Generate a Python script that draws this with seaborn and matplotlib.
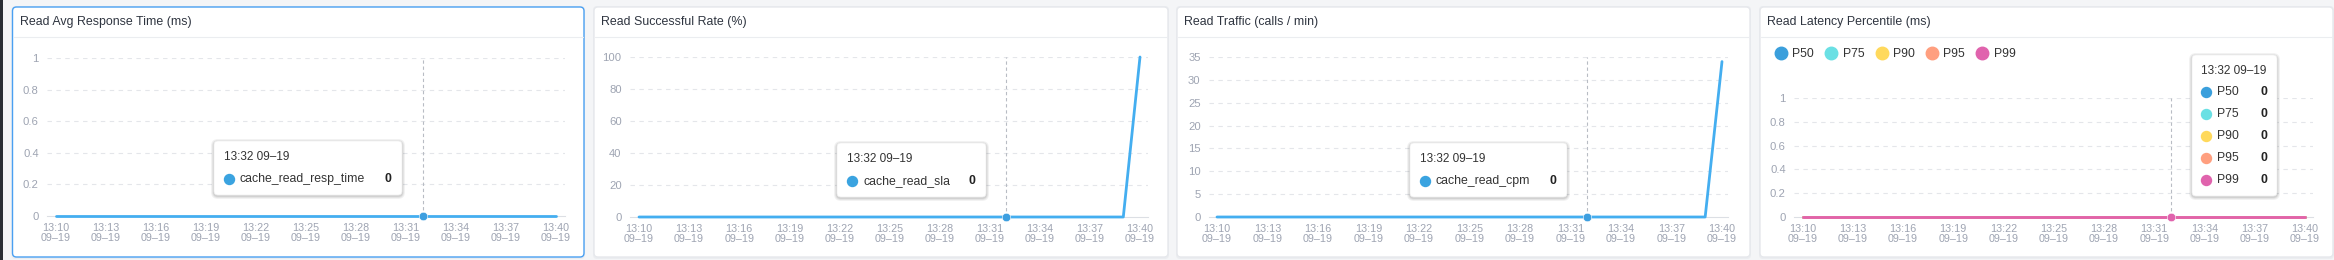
import numpy as np
import pandas as pd
import matplotlib
matplotlib.use("Agg")
import matplotlib.pyplot as plt
import seaborn as sns
from matplotlib.patches import FancyBboxPatch
from matplotlib.lines import Line2D
from matplotlib.transforms import IdentityTransform

# ---------------- data ----------------
times = ["13:10", "13:11", "13:12", "13:13", "13:14", "13:15", "13:16", "13:17",
         "13:18", "13:19", "13:20", "13:21", "13:22", "13:23", "13:24", "13:25",
         "13:26", "13:27", "13:28", "13:29", "13:30", "13:31", "13:32", "13:33",
         "13:34", "13:35", "13:36", "13:37", "13:38", "13:39", "13:40"]
date_label = "09–19"
tick_times = ["13:10", "13:13", "13:16", "13:19", "13:22", "13:25", "13:28",
              "13:31", "13:34", "13:37", "13:40"]

resp_time = [0, 0, 0, 0, 0, 0, 0, 0, 0, 0, 0, 0, 0, 0, 0, 0,
             0, 0, 0, 0, 0, 0, 0, 0, 0, 0, 0, 0, 0, 0, 0]
sla = [0, 0, 0, 0, 0, 0, 0, 0, 0, 0, 0, 0, 0, 0, 0, 0,
       0, 0, 0, 0, 0, 0, 0, 0, 0, 0, 0, 0, 0, 0, 100]
cpm = [0, 0, 0, 0, 0, 0, 0, 0, 0, 0, 0, 0, 0, 0, 0, 0,
       0, 0, 0, 0, 0, 0, 0, 0, 0, 0, 0, 0, 0, 0, 34]
p50 = [0, 0, 0, 0, 0, 0, 0, 0, 0, 0, 0, 0, 0, 0, 0, 0,
       0, 0, 0, 0, 0, 0, 0, 0, 0, 0, 0, 0, 0, 0, 0]
p75 = [0, 0, 0, 0, 0, 0, 0, 0, 0, 0, 0, 0, 0, 0, 0, 0,
       0, 0, 0, 0, 0, 0, 0, 0, 0, 0, 0, 0, 0, 0, 0]
p90 = [0, 0, 0, 0, 0, 0, 0, 0, 0, 0, 0, 0, 0, 0, 0, 0,
       0, 0, 0, 0, 0, 0, 0, 0, 0, 0, 0, 0, 0, 0, 0]
p95 = [0, 0, 0, 0, 0, 0, 0, 0, 0, 0, 0, 0, 0, 0, 0, 0,
       0, 0, 0, 0, 0, 0, 0, 0, 0, 0, 0, 0, 0, 0, 0]
p99 = [0, 0, 0, 0, 0, 0, 0, 0, 0, 0, 0, 0, 0, 0, 0, 0,
       0, 0, 0, 0, 0, 0, 0, 0, 0, 0, 0, 0, 0, 0, 0]
percentile_names = ["P50", "P75", "P90", "P95", "P99"]
percentile_colors = ["#3a9fdc", "#6ae0e4", "#ffd95c", "#ff9f7f", "#e063ad"]

titles = ["Read Avg Response Time (ms)", "Read Successful Rate (%)",
          "Read Traffic (calls / min)", "Read Latency Percentile (ms)"]
series_names = ["cache_read_resp_time", "cache_read_sla", "cache_read_cpm"]
yticks_list = [[0, 0.2, 0.4, 0.6, 0.8, 1], [0, 20, 40, 60, 80, 100],
               [0, 5, 10, 15, 20, 25, 30, 35], [0, 0.2, 0.4, 0.6, 0.8, 1]]
ytick_labels = [["0", "0.2", "0.4", "0.6", "0.8", "1"],
                ["0", "20", "40", "60", "80", "100"],
                ["0", "5", "10", "15", "20", "25", "30", "35"],
                ["0", "0.2", "0.4", "0.6", "0.8", "1"]]
hover_time = "13:32"

# ---------------- style ----------------
sns.set_style("white")
plt.rcParams["font.family"] = ["Liberation Sans", "DejaVu Sans"]

W, H = 2334, 260
DPI = 100
fig = plt.figure(figsize=(W / DPI, H / DPI), dpi=DPI)
fig.patch.set_facecolor("#f4f5f7")

LINE_BLUE = "#44aef0"
TICK_C = "#9ea4b2"
GRID_C = "#e4e6ea"
TITLE_C = "#2f3540"
TEXT_C = "#333333"
PT = 0.72  # px -> pt


def fx(x):
    return x / W


def fy(y):
    return 1 - y / H


def rbox(x0, y0, x1, y1, fc, ec, lw=1.0, r=4, z=-5, alpha=1.0):
    p = FancyBboxPatch((x0, H - y1), x1 - x0, y1 - y0,
                       boxstyle=f"round,pad=0,rounding_size={r}",
                       transform=IdentityTransform(), facecolor=fc,
                       edgecolor=ec, linewidth=lw, zorder=z, alpha=alpha)
    fig.add_artist(p)
    return p


# left dark strip
rbox(0, -5, 3, 265, "#2a2e35", "none", lw=0, r=0, z=-6)

panels = [(12.5, 7, 584, 257), (594, 7, 1168, 257),
          (1177, 7, 1750, 257), (1760, 7, 2333, 257)]
for i, (x0, y0, x1, y1) in enumerate(panels):
    rbox(x0 - 1, y0 - 1, x1 + 1, y1 + 2, "#e9ebef", "none", lw=0, z=-5.5, alpha=0.8)
    ec = "#4aa0f2" if i == 0 else "#e6e8ec"
    rbox(x0, y0, x1, y1, "white", ec, lw=1.0 * PT * 1.4, z=-5)
    fig.add_artist(Line2D([fx(x0 + 1), fx(x1 - 1)], [fy(37), fy(37)],
                          color="#ebedf0", lw=0.8, transform=fig.transFigure, zorder=-4))
    fig.text(fx(x0 + 7), fy(22), titles[i], fontsize=12.4 * PT, color=TITLE_C,
             va="center", ha="left")

# axes geometry: grid left/right, top/bottom, pixel pos of first & last time
geo = [(47, 565, 58, 216, 56, 556),
       (630, 1148, 57, 217, 639, 1140),
       (1209, 1728, 57, 217, 1217, 1722),
       (1794, 2313, 98, 217, 1802.5, 2305)]

minutes = np.arange(len(times))
tick_pos = [times.index(t) for t in tick_times]
tick_lbls = [f"{t}\n{date_label}" for t in tick_times]
hover_idx = times.index(hover_time)

axes = []
for i, (l, r, t, b, x0, x1) in enumerate(geo):
    ax = fig.add_axes([fx(l), fy(b), (r - l) / W, (b - t) / H])
    ax.patch.set_visible(False)
    ppm = (x1 - x0) / (len(times) - 1)
    ax.set_xlim(-(x0 - l) / ppm, (len(times) - 1) + (r - x1) / ppm)
    yt = yticks_list[i]
    ax.set_ylim(yt[0], yt[-1])
    ax.set_yticks(yt)
    ax.set_yticklabels(ytick_labels[i])
    ax.set_xticks(tick_pos)
    ax.set_xticklabels(tick_lbls, linespacing=1.0)
    for s in ["top", "right", "left"]:
        ax.spines[s].set_visible(False)
    ax.spines["bottom"].set_color("#dcdfe4")
    ax.spines["bottom"].set_linewidth(0.8)
    ax.tick_params(axis="y", length=0, pad=6, labelsize=11.2 * PT, labelcolor=TICK_C)
    ax.tick_params(axis="x", length=3.5 * PT, width=0.8, color="#dcdfe4", pad=2.5,
                   labelsize=10.8 * PT, labelcolor=TICK_C)
    for yv in yt[1:]:
        ax.axhline(yv, color=GRID_C, lw=0.8, ls=(0, (4, 4)), zorder=0)
    ax.axvline(hover_idx, color="#b8bcc4", lw=0.8, ls=(0, (3, 2.5)), zorder=1)
    ax.grid(False)
    axes.append(ax)

# single-series panels
for ax, vals, name in zip(axes[:3], [resp_time, sla, cpm], series_names):
    df = pd.DataFrame({"minute": minutes, "value": vals})
    sns.lineplot(data=df, x="minute", y="value", ax=ax, color=LINE_BLUE,
                 linewidth=2.0, zorder=3, clip_on=False)
    ax.plot([hover_idx], [vals[hover_idx]], marker="o", ms=8.5 * PT,
            color="#3d9fe0", mec="white", mew=0.4, zorder=4, clip_on=False)
    ax.set_xlabel("")
    ax.set_ylabel("")

# percentile panel
ax4 = axes[3]
pct_vals = [p50, p75, p90, p95, p99]
long = pd.DataFrame({
    "minute": np.tile(minutes, len(percentile_names)),
    "value": np.concatenate([np.asarray(v) for v in pct_vals]),
    "pct": np.repeat(percentile_names, len(minutes)),
})
sns.lineplot(data=long, x="minute", y="value", hue="pct",
             hue_order=percentile_names, palette=percentile_colors,
             ax=ax4, linewidth=2.0, legend=False, zorder=3, clip_on=False)
ax4.plot([hover_idx], [p99[hover_idx]], marker="o", ms=8.5 * PT,
         color=percentile_colors[-1], mec="white", mew=0.4, zorder=4, clip_on=False)
ax4.set_xlabel("")
ax4.set_ylabel("")
handles = [Line2D([], [], marker="o", ls="", ms=12.5 * PT, color=c, mec=c)
           for c in percentile_colors]
ax4.legend(handles, percentile_names, ncol=5, loc="center left",
           bbox_to_anchor=(fx(1775), fy(54)), bbox_transform=fig.transFigure,
           frameon=False, handlelength=1.0, handletextpad=0.42,
           columnspacing=0.92, borderpad=0, borderaxespad=0,
           prop={"size": 12.2 * PT}, labelcolor=TEXT_C)


# ---------------- tooltips ----------------
def tooltip(box, title_xy, dot_x, name_x, val_x, rows):
    x0, y0, x1, y1 = box
    for k, a in [(3, 0.05), (2, 0.06), (1, 0.08)]:
        rbox(x0 - k, y0 - k + 1, x1 + k, y1 + k + 1, "#000000", "none", lw=0,
             r=4 + k, z=5, alpha=a)
    rbox(x0, y0, x1, y1, "white", "#f0f0f0", lw=0.5, r=4, z=6)
    fig.text(fx(title_xy[0]), fy(title_xy[1]), f"{hover_time} {date_label}",
             fontsize=11.8 * PT, color=TEXT_C, va="center", ha="left", zorder=7)
    for (yy, name, col, val) in rows:
        fig.add_artist(Line2D([fx(dot_x)], [fy(yy)], marker="o", ms=10 * PT,
                              color=col, mec=col, transform=fig.transFigure, zorder=7))
        fig.text(fx(name_x), fy(yy), name, fontsize=12.2 * PT, color=TEXT_C,
                 va="center", ha="left", zorder=7)
        fig.text(fx(val_x), fy(yy), f"{val:g}", fontsize=12.2 * PT, color="#222222",
                 va="center", ha="center", zorder=7, fontweight="bold")


tooltip((214, 141, 402, 195), (224, 157), 229, 240, 388,
        [(179, series_names[0], "#3aa3e0", resp_time[hover_idx])])
tooltip((837, 143, 986, 197), (847, 159), 852, 863, 972,
        [(181, series_names[1], "#3aa3e0", sla[hover_idx])])
tooltip((1410, 143, 1567, 197), (1420, 159), 1425, 1436, 1553,
        [(181, series_names[2], "#3aa3e0", cpm[hover_idx])])
rows4 = [(92 + 22 * k, percentile_names[k], percentile_colors[k], pct_vals[k][hover_idx])
         for k in range(5)]
tooltip((2192, 55, 2277, 196), (2201, 71), 2206, 2217, 2264, rows4)

fig.savefig("out.png", dpi=DPI, facecolor=fig.get_facecolor())
